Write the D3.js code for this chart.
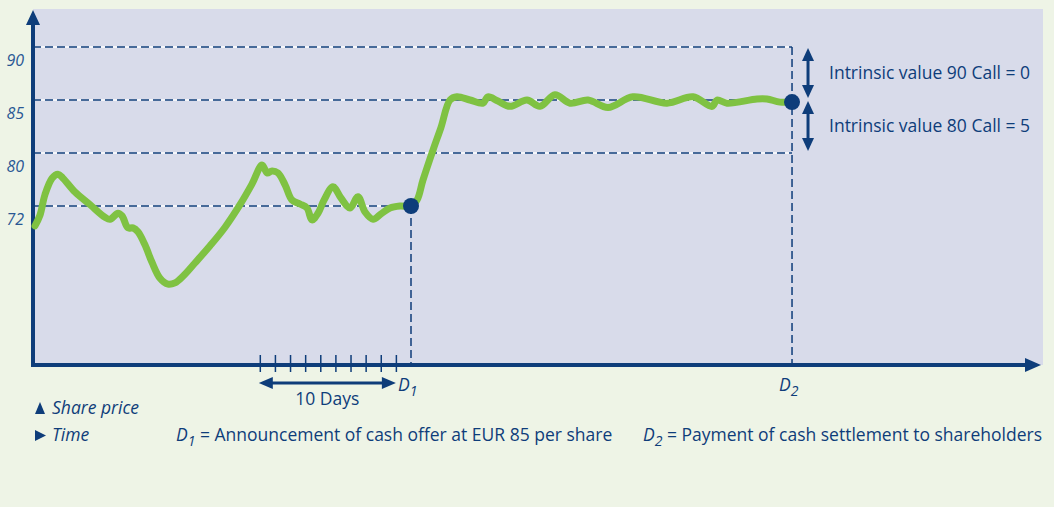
<!DOCTYPE html>
<html>
    <head>
        <meta charset="utf-8">
        <title>Cash offer - share price</title>
        <script type="text/javascript" src="https://d3js.org/d3.v7.min.js"></script>
        <style>
            body {margin: 0; background: #eef4e6;}
            svg text {font-family: "Open Sans", "Noto Sans", sans-serif; fill: #0e3d7a;}
        </style>
    </head>
    <body>
        <script>
            // price path (days from start / share price)
            var days = [0.13, 0.46, 0.79, 1.26, 1.65, 1.98, 2.78, 3.77, 4.76, 5.09, 5.62, 5.89, 6.28, 6.61, 6.94,
                7.41, 7.87, 8.40, 8.93, 9.39, 9.92, 10.71, 11.71, 12.70, 13.69, 14.48, 15.15, 15.48, 15.81, 16.20,
                16.67, 17.13, 17.66, 18.12, 18.45, 18.85, 19.25, 19.84, 20.37, 20.97, 21.49, 21.96, 22.49, 23.02,
                23.61, 24.27, 25.0, 25.40, 25.79, 26.46, 26.98, 27.58, 28.04, 28.90, 29.76, 30.09, 30.75, 31.55,
                32.67, 33.53, 34.52, 35.52, 36.71, 38.03, 39.68, 41.93, 43.65, 44.91, 45.24, 45.90, 47.88, 48.54,
                49.40, 50.2];
            var prices = [69.0, 70.6, 73.7, 76.2, 76.8, 76.2, 74.1, 72.2, 70.3, 70.0, 70.9, 70.5, 68.7, 68.7, 68.1,
                66.1, 63.5, 61.1, 60.2, 60.4, 61.4, 63.4, 66.0, 68.8, 72.2, 75.3, 78.2, 77.0, 77.3, 77.0,
                75.2, 72.9, 72.3, 71.7, 69.9, 70.9, 72.9, 74.9, 73.2, 71.7, 73.4, 71.1, 70.0, 70.8,
                71.7, 72.0, 72.0, 72.9, 75.9, 80.3, 82.4, 85.0, 85.3, 85.0, 84.7, 85.3, 84.9, 84.4,
                85.0, 84.4, 85.5, 84.7, 85.0, 84.3, 85.3, 84.7, 85.3, 84.4, 85.0, 84.7, 85.1, 85.1,
                84.8, 84.8];

            var yTicks = [72, 80, 85, 90];
            var dayTicks = [15, 16, 17, 18, 19, 20, 21, 22, 23, 24];

            var eventNames = ["1", "2"];
            var eventDays = [25, 50.2];
            var eventPrices = [72, 84.8];

            var notes = ["Intrinsic value 90 Call = 0", "Intrinsic value 80 Call = 5"];
            var noteLevels = [[90, 85], [85, 80]];

            var navy = "#0e3d7a";
            var green = "#7fc242";
            var fs = 17.5;

            var svg = d3.select("body").append("svg")
                .attr("width", 1054)
                .attr("height", 507);

            var pLeft = 33, pRight = 1043, pTop = 9, pBottom = 365;

            var x = d3.scaleLinear().domain([0, 25]).range([pLeft, 411]);
            // the price axis is schematic: each labelled level is an equal step
            var y = d3.scaleLinear().domain(yTicks).range([206, 153, 100, 47]);

            svg.append("rect")
                .attr("x", pLeft).attr("y", pTop)
                .attr("width", pRight - pLeft).attr("height", pBottom - pTop)
                .attr("fill", "#d8dbea");

            // horizontal reference lines (white under navy dashes)
            var hEnds = [eventDays[0], eventDays[1], eventDays[1], eventDays[1]];
            yTicks.forEach(function(v, i) {
                svg.append("line")
                    .attr("x1", pLeft).attr("x2", x(hEnds[i]))
                    .attr("y1", y(v)).attr("y2", y(v))
                    .attr("stroke", "#fff").attr("stroke-width", 1.5);
                svg.append("line")
                    .attr("x1", pLeft).attr("x2", x(hEnds[i]))
                    .attr("y1", y(v)).attr("y2", y(v))
                    .attr("stroke", navy).attr("stroke-width", 1.5)
                    .attr("stroke-dasharray", "8,4");
            });

            // vertical lines at D1 and D2
            svg.append("line")
                .attr("x1", x(eventDays[0])).attr("x2", x(eventDays[0]))
                .attr("y1", y(72)).attr("y2", pBottom)
                .attr("stroke", navy).attr("stroke-width", 1.5).attr("stroke-dasharray", "8,4");
            svg.append("line")
                .attr("x1", x(eventDays[1])).attr("x2", x(eventDays[1]))
                .attr("y1", y(90)).attr("y2", pBottom)
                .attr("stroke", navy).attr("stroke-width", 1.5).attr("stroke-dasharray", "8,4");

            // y axis labels
            var yAxis = svg.append("g")
                .attr("transform", "translate(" + pLeft + ",0)")
                .call(d3.axisLeft(y).tickValues(yTicks).tickSize(0).tickPadding(9));
            yAxis.select(".domain").remove();
            yAxis.selectAll("text")
                .attr("dy", 18)
                .attr("font-size", 16)
                .attr("font-style", "italic")
                .style("fill", "#2a5894")
                .attr("font-family", "'Open Sans', sans-serif");

            // day ticks on x axis
            var xAxis = svg.append("g")
                .attr("transform", "translate(0," + (pBottom - 10) + ")")
                .call(d3.axisBottom(x).tickValues(dayTicks).tickSize(17).tickFormat(""));
            xAxis.select(".domain").remove();
            xAxis.selectAll("line").attr("stroke", navy).attr("stroke-width", 1.5);

            // axis lines with arrow heads
            svg.append("line")
                .attr("x1", pLeft).attr("x2", pLeft)
                .attr("y1", pBottom + 2).attr("y2", pTop + 12)
                .attr("stroke", navy).attr("stroke-width", 4);
            svg.append("path")
                .attr("d", "M" + pLeft + "," + (pTop + 1) + "L" + (pLeft + 7) + "," + (pTop + 16) + "L" + (pLeft - 7) + "," + (pTop + 16) + "Z")
                .attr("fill", navy);
            svg.append("line")
                .attr("x1", pLeft - 2).attr("x2", 1030)
                .attr("y1", pBottom).attr("y2", pBottom)
                .attr("stroke", navy).attr("stroke-width", 4);
            svg.append("path")
                .attr("d", "M1041," + pBottom + "L1025," + (pBottom - 7) + "L1025," + (pBottom + 7) + "Z")
                .attr("fill", navy);

            // share price line
            var pts = days.map(function(d, i) { return [d, prices[i]]; });
            var line = d3.line()
                .x(function(d) { return x(d[0]); })
                .y(function(d) { return y(d[1]); })
                .curve(d3.curveCatmullRom.alpha(0.5));
            svg.append("path")
                .datum(pts)
                .attr("d", line)
                .attr("fill", "none")
                .attr("stroke", green)
                .attr("stroke-width", 7)
                .attr("stroke-linejoin", "round")
                .attr("stroke-linecap", "round");

            svg.selectAll(".dot")
                .data(eventDays)
                .enter()
                .append("circle")
                .attr("class", "dot")
                .attr("cx", function(d) { return x(d); })
                .attr("cy", function(d, i) { return y(eventPrices[i]); })
                .attr("r", 8)
                .attr("fill", navy);

            // D labels under the axis
            var dLab = svg.selectAll(".dlab")
                .data(eventDays)
                .enter()
                .append("text")
                .attr("class", "dlab")
                .attr("x", function(d) { return x(d) - 13; })
                .attr("y", 391)
                .attr("font-size", fs)
                .attr("font-style", "italic");
            dLab.append("tspan").text("D");
            dLab.append("tspan").attr("dy", 5).attr("font-size", 14)
                .text(function(d, i) { return eventNames[i]; });

            // 10 days arrow
            var a0 = x(dayTicks[0]) - 1, a1 = x(dayTicks[dayTicks.length - 1]);
            var ay = 383;
            svg.append("line")
                .attr("x1", a0 + 8).attr("x2", a1 - 8)
                .attr("y1", ay).attr("y2", ay)
                .attr("stroke", navy).attr("stroke-width", 3);
            svg.append("path")
                .attr("d", "M" + a0 + "," + ay + "L" + (a0 + 14) + "," + (ay - 6) + "L" + (a0 + 14) + "," + (ay + 6) + "Z")
                .attr("fill", navy);
            svg.append("path")
                .attr("d", "M" + a1 + "," + ay + "L" + (a1 - 14) + "," + (ay - 6) + "L" + (a1 - 14) + "," + (ay + 6) + "Z")
                .attr("fill", navy);
            svg.append("text")
                .attr("x", (a0 + a1) / 2).attr("y", 405)
                .attr("text-anchor", "middle")
                .attr("font-size", fs)
                .text("10 Days");

            // intrinsic value arrows
            var ax = x(eventDays[1]) + 16;
            noteLevels.forEach(function(lv, i) {
                var t = y(lv[0]) + 1, b = y(lv[1]) - 2;
                svg.append("line")
                    .attr("x1", ax).attr("x2", ax)
                    .attr("y1", t + 8).attr("y2", b - 8)
                    .attr("stroke", navy).attr("stroke-width", 3);
                svg.append("path")
                    .attr("d", "M" + ax + "," + t + "L" + (ax - 6) + "," + (t + 13) + "L" + (ax + 6) + "," + (t + 13) + "Z")
                    .attr("fill", navy);
                svg.append("path")
                    .attr("d", "M" + ax + "," + b + "L" + (ax - 6) + "," + (b - 13) + "L" + (ax + 6) + "," + (b - 13) + "Z")
                    .attr("fill", navy);
                svg.append("text")
                    .attr("x", ax + 21)
                    .attr("y", (y(lv[0]) + y(lv[1])) / 2 + 5)
                    .attr("font-size", fs)
                    .text(notes[i]);
            });

            // legend
            svg.append("path").attr("d", "M40,402L45,414L35,414Z").attr("fill", navy);
            svg.append("text").attr("x", 52).attr("y", 414)
                .attr("font-size", fs).attr("font-style", "italic").text("Share price");
            svg.append("path").attr("d", "M46,435.5L35,430L35,441Z").attr("fill", navy);
            svg.append("text").attr("x", 52).attr("y", 441)
                .attr("font-size", fs).attr("font-style", "italic").text("Time");

            var legendTexts = [" = Announcement of cash offer at EUR 85 per share", " = Payment of cash settlement to shareholders"];
            var legendX = [176, 643];
            legendTexts.forEach(function(t, i) {
                var txt = svg.append("text").attr("x", legendX[i]).attr("y", 441).attr("font-size", fs);
                txt.append("tspan").attr("font-style", "italic").text("D");
                txt.append("tspan").attr("font-style", "italic").attr("font-size", 14).attr("dy", 5).text(eventNames[i]);
                txt.append("tspan").attr("dy", -5).text(t);
            });
        </script>
    </body>
</html>
